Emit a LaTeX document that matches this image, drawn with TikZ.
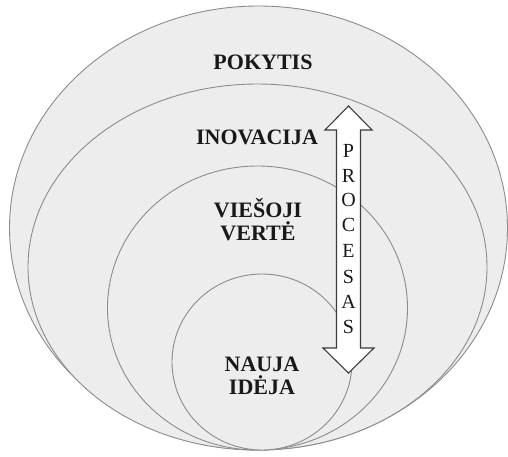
\documentclass[tikz,border=0pt]{standalone}
\usepackage{fontspec}
\setmainfont{Liberation Serif}
\definecolor{ringfill}{HTML}{EDEDED}
\definecolor{ringline}{HTML}{8C8C8C}
\definecolor{arrline}{HTML}{3C3C3C}
\begin{document}
\begin{tikzpicture}[x=1pt,y=-1pt,
  ring/.style={fill=ringfill,draw=ringline,line width=0.9pt},
  lbl/.style={font=\fontsize{22}{24}\selectfont\bfseries,align=center,inner sep=0pt,text=black!90},
  letter/.style={font=\fontsize{20}{21}\selectfont,inner sep=0pt,text=black!90}]
\useasboundingbox (0,0) rectangle (508,456);
\fill[white] (0,0) rectangle (508,456);
\draw[ring] (258.5,228) ellipse [x radius=249, y radius=222];
\draw[ring] (257.5,267) ellipse [x radius=229.5, y radius=183];
\draw[ring] (257.5,308) ellipse [x radius=150, y radius=142];
\draw[ring] (262,362) ellipse [x radius=90, y radius=88];
\node[lbl] (pokytis) at (263,62) {POKYTIS};
\node[lbl] (inovacija) at (257,137) {INOVACIJA};
\node[lbl] (vertė) at (258,220) {VIEŠOJI\\[-1pt]VERTĖ};
\node[lbl] (idėja) at (262,376) {NAUJA\\[-1pt]IDĖJA};
\draw[draw=arrline,fill=white,line width=1.1pt,line join=miter]
  (348.5,106) -- (372,130) -- (360.5,130) -- (360.5,348) -- (374,348) -- (348.5,373)
  -- (323,348) -- (336.5,348) -- (336.5,130) -- (325,130) -- cycle;
\foreach \ch/\yy [count=\i] in {P/151,R/176,O/200,C/225,E/251,S/277,A/302,S/327}
  \node[letter] (l\i) at (348.5,\yy) {\ch};
\end{tikzpicture}
\end{document}
